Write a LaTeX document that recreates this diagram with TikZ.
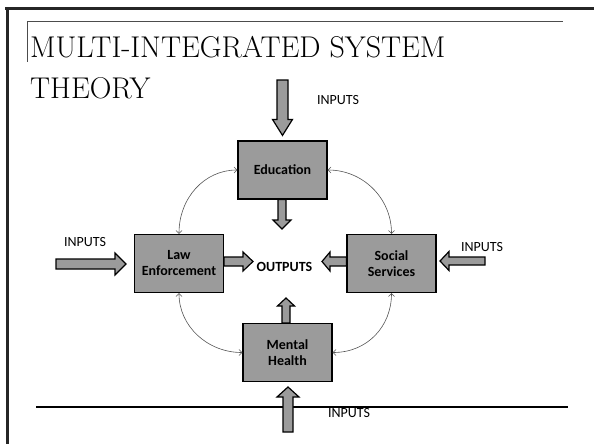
\documentclass[tikz,border=0pt]{standalone}
\usepackage{fontspec}
\newfontfamily\lab{Carlito}
\usetikzlibrary{calc,arrows.meta}
\definecolor{boxgray}{RGB}{155,155,155}
\definecolor{linkgray}{RGB}{85,85,85}
\newcommand{\barrow}[5]{%
  \coordinate (ba-s) at (#1);
  \coordinate (ba-t) at (#2);
  \coordinate (ba-h) at ($(ba-t)!#5!(ba-s)$);
  \draw[blockarr] ($(ba-s)!#3!90:(ba-t)$) -- ($(ba-h)!#3!90:(ba-t)$) -- ($(ba-h)!#4!90:(ba-t)$) -- (ba-t) -- ($(ba-h)!#4!-90:(ba-t)$) -- ($(ba-h)!#3!-90:(ba-t)$) -- ($(ba-s)!#3!-90:(ba-t)$) -- cycle;}
\begin{document}
\begin{tikzpicture}[x=1pt,y=-1pt,
  sysbox/.style={draw=black,line width=1.2pt,fill=boxgray,minimum width=89pt,minimum height=58pt,inner sep=0pt,align=center,font=\lab\bfseries\fontsize{14}{16}\selectfont},
  blockarr/.style={draw=black,line width=1.2pt,fill=boxgray,line join=miter},
  link/.style={draw=linkgray,line width=0.6pt,{Straight Barb[length=3pt,width=6pt]}-{Straight Barb[length=3pt,width=6pt]}},
  lbl/.style={font=\lab\fontsize{14}{16}\selectfont,inner sep=0pt},
  frame/.style={line width=2.5pt,draw=black!85}]
\useasboundingbox (0,0) rectangle (594,444);
% frame lines
\draw[frame] (5,8.5) -- (594,8.5);
\draw[frame] (7.5,8.5) -- (7.5,444);
\draw[line width=1.2pt,draw=black!70] (27,21.5) -- (563,21.5);
\draw[line width=1pt,draw=black!70] (27,21.5) -- (27,62);
\draw[line width=2pt] (36,407) -- (568,407);
% title
\node[anchor=base west,inner sep=0pt,font=\fontsize{30}{34}\selectfont] (t1) at (30,58) {MULTI-INTEGRATED SYSTEM};
\node[anchor=base west,inner sep=0pt,font=\fontsize{30}{34}\selectfont] (t2) at (30,98) {THEORY};
% boxes
\node[sysbox] (edu) at (282.5,170) {Education};
\node[sysbox] (law) at (179,263.5) {Law\\Enforcement};
\node[sysbox] (soc) at (391.5,263.5) {Social\\Services};
\node[sysbox] (men) at (287.5,352.5) {Mental\\Health};
\node[lbl,font=\lab\bfseries\fontsize{14}{16}\selectfont] (out) at (284.5,267) {OUTPUTS};
% labels
\node[lbl] (inT) at (338,100) {INPUTS};
\node[lbl] (inL) at (85,242) {INPUTS};
\node[lbl] (inR) at (482,247) {INPUTS};
\node[lbl] (inB) at (349,413) {INPUTS};
% free ends
\coordinate (topS) at (282.5,80);
\coordinate (topT) at ($(edu.north)+(0,-5)$);
\coordinate (eduO) at (282,229);
\coordinate (lawO) at (253,261.5);
\coordinate (socO) at (322,261.5);
\coordinate (menO) at (286,298);
\coordinate (rS) at (485,261);
\coordinate (rT) at (440,261);
\coordinate (lS) at (56,264);
\coordinate (lT) at (126,264);
\coordinate (bS) at (288,432);
\coordinate (bT) at (288,387);
% block arrows
\barrow{topS}{topT}{5.5pt}{10pt}{16pt}
\barrow{edu.south -| eduO}{eduO}{4pt}{9pt}{9pt}
\barrow{law.east |- lawO}{lawO}{4.5pt}{9.5pt}{10pt}
\barrow{soc.west |- socO}{socO}{4.5pt}{9.5pt}{8pt}
\barrow{men.north -| menO}{menO}{4pt}{8.5pt}{8pt}
\barrow{rS}{rT}{4pt}{9.5pt}{9pt}
\barrow{lS}{lT}{5pt}{11pt}{11pt}
\barrow{bS}{bT}{5pt}{11pt}{10pt}
% links
\draw[link] (edu.west) .. controls +(-33,0) and +(0,-36) .. (law.north);
\draw[link] (edu.east) .. controls +(35,0) and +(0,-36) .. (soc.north);
\draw[link] (law.south) .. controls +(0,33) and +(-35,0) .. (men.west);
\draw[link] (soc.south) .. controls +(0,33) and +(35,0) .. (men.east);
\end{tikzpicture}
\end{document}
